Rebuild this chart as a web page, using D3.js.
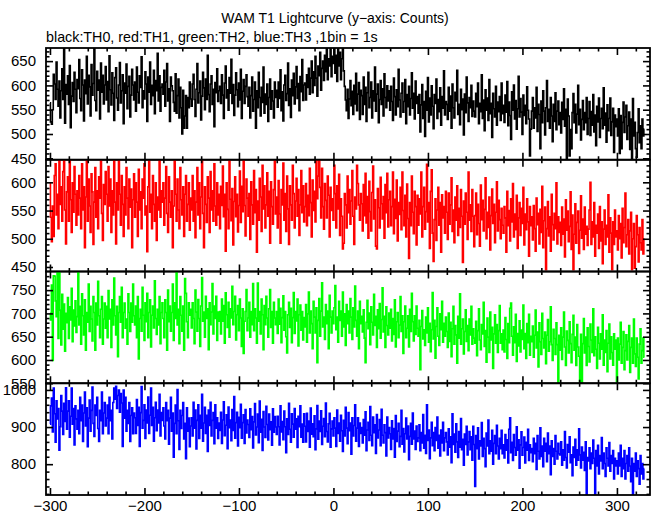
<!DOCTYPE html>
<html><head><meta charset="utf-8">
<script src="https://cdn.jsdelivr.net/npm/d3@7"></script>
<style>body{margin:0;background:#fff}svg{display:block}text{font-family:"Liberation Sans",Arial,Helvetica,sans-serif}</style>
</head><body><svg id="c" width="652" height="515"></svg>
<script>
// Counts per 1 s bin, starting at t = -300 s
const th0 = [
564,525,520,550,623,603,571,648,592,557,609,533,589,634,571,676,522,602,582,620,561,641,513,578,606,567,627,592,544,612,
593,653,573,548,632,601,527,611,583,660,562,621,597,537,643,580,604,676,569,548,629,590,611,531,646,586,621,562,601,639,
570,608,546,661,591,560,626,584,528,616,636,574,549,601,647,564,589,622,521,605,584,644,552,598,619,535,580,633,601,570,
607,547,638,586,564,620,596,659,554,589,572,628,603,526,617,586,648,561,600,579,631,542,610,589,666,568,620,547,596,603,
582,631,557,607,645,568,593,526,617,599,589,565,547,624,543,579,613,533,596,554,500,590,512,537,579,512,575,554,607,572,
557,603,623,571,536,592,645,564,585,609,529,578,627,595,550,613,571,662,581,546,603,620,561,592,515,606,585,634,567,589,
598,563,622,580,532,605,640,574,591,549,616,584,654,563,602,538,580,626,591,556,605,570,633,532,588,612,563,598,622,577,
557,596,533,579,617,547,571,607,512,589,554,627,575,537,596,565,638,543,582,561,603,526,575,613,551,589,568,533,607,575,
590,555,607,573,632,548,587,527,601,621,569,583,646,559,593,534,611,579,625,562,597,639,573,604,548,618,587,653,569,601,
605,570,622,596,635,582,615,650,585,628,600,660,615,578,640,620,668,590,635,650,610,662,628,676,612,655,640,676,618,660,
645,676,625,662,608,676,640,668,612,655,676,630,598,570,548,592,532,572,610,558,588,540,600,562,625,548,582,606,530,590,
579,540,617,561,596,526,585,627,554,575,607,533,589,568,638,547,582,603,523,571,610,561,593,537,624,575,554,599,568,589,
549,598,567,528,615,577,539,591,556,633,570,535,584,605,545,567,612,521,581,556,598,539,573,626,553,584,531,609,563,577,
543,581,504,560,602,532,567,495,588,549,616,525,574,539,599,557,511,581,563,613,532,571,546,595,518,577,553,630,539,567,
561,530,596,547,578,512,603,554,533,586,568,631,540,561,519,592,550,572,498,582,544,617,564,526,575,554,600,536,568,547,
535,584,556,605,521,563,546,622,532,570,507,591,549,574,528,612,542,563,493,584,552,535,598,518,566,546,577,528,605,542,
559,524,580,545,608,517,566,538,489,587,549,601,531,569,510,552,619,535,573,545,499,580,538,559,521,597,549,531,455,510,
547,575,512,554,533,596,505,561,540,470,568,523,589,547,498,554,610,526,551,512,575,537,484,561,526,585,509,547,568,519,
544,502,565,530,593,516,551,448,572,537,455,509,470,544,583,523,561,502,541,600,519,551,488,530,569,509,544,523,575,499,
532,567,497,546,518,581,504,539,476,557,525,574,493,532,553,511,595,518,543,483,560,507,532,574,497,525,553,462,539,515,
531,496,552,460,538,470,524,566,503,535,559,489,517,545,468,531,450,573,496,524,470,452,503,552,482,517,470,531,496,510];

const th1 = [
599,538,495,558,504,612,633,542,579,518,639,561,592,531,619,640,551,491,583,610,531,640,569,511,599,547,628,579,524,585,
542,612,572,518,633,551,592,484,574,639,531,606,558,511,615,583,490,565,626,538,585,518,610,572,646,545,497,596,561,619,
579,531,628,558,606,511,585,542,653,565,491,599,551,640,579,524,612,561,504,592,542,626,572,518,606,556,588,484,569,615,
538,599,565,504,623,551,583,518,606,572,633,542,558,477,592,646,547,579,518,612,561,531,599,497,574,551,639,538,585,565,
599,524,572,628,545,511,610,565,538,585,484,558,639,579,531,606,551,518,626,569,542,592,504,579,612,531,561,599,515,572,
551,612,531,585,502,565,626,542,599,518,574,646,545,484,592,561,529,610,572,511,619,551,585,531,633,558,524,599,542,579,
518,593,559,629,539,579,478,599,552,518,640,570,532,589,489,566,610,539,579,512,559,620,529,593,548,653,559,505,606,572,
540,580,499,601,560,526,621,546,587,476,567,533,607,574,513,630,553,594,519,560,617,540,584,492,601,557,526,587,641,544,
574,519,603,544,492,587,560,634,533,580,513,611,553,490,594,560,533,630,580,519,567,607,540,587,506,560,621,546,594,530,
557,598,523,577,541,625,564,503,604,550,584,530,645,571,611,640,591,537,625,557,517,598,568,537,611,577,503,591,550,571,
533,630,580,519,594,553,614,506,571,540,482,492,580,560,519,611,546,587,526,567,621,540,490,574,553,630,598,560,533,580,
562,514,596,541,616,528,575,501,602,548,514,582,629,535,569,487,482,589,555,519,609,562,535,575,501,596,546,616,521,569,
584,523,557,618,509,570,536,604,496,564,543,591,516,618,550,523,577,503,597,536,465,564,523,611,547,509,584,557,489,577,
524,571,544,618,503,557,591,517,548,632,530,564,483,584,622,510,460,534,571,497,551,591,524,564,476,578,537,557,510,584,
547,499,581,526,560,608,513,551,493,574,533,594,506,554,520,587,540,458,567,526,581,547,499,618,533,560,513,587,540,486,
541,581,507,561,527,487,595,534,568,514,552,608,500,547,520,574,480,541,588,527,561,493,547,601,514,568,534,500,554,524,
510,557,537,476,584,523,550,496,571,530,598,503,544,516,577,483,537,564,506,554,527,591,489,544,516,571,530,469,557,523,
539,498,559,518,478,572,525,545,491,552,511,593,484,532,556,445,518,566,505,539,478,579,525,498,545,518,599,491,539,511,
529,488,556,508,535,468,569,515,549,495,522,583,481,542,445,508,562,492,529,549,474,515,576,501,535,481,556,508,522,488,
517,551,600,490,530,503,564,469,524,510,544,483,557,496,530,456,517,551,490,524,503,578,476,537,510,445,530,490,551,503,
514,480,541,500,527,466,554,493,520,581,486,507,534,473,514,547,445,500,527,448,486,541,507,459,520,493,480,534,473,500];

const th2 = [
700,686,761,599,781,780,727,693,790,646,790,707,632,741,666,720,619,700,680,734,646,714,686,754,639,707,673,727,659,693,
790,675,715,634,742,695,654,729,621,702,681,763,661,715,688,641,736,702,621,722,675,769,695,648,709,736,634,688,722,668,
715,648,749,688,709,627,729,675,776,695,654,715,607,702,736,681,756,648,702,722,668,688,634,742,702,661,722,681,763,695,
675,716,648,736,602,689,709,662,756,696,642,723,682,743,648,702,729,628,696,716,669,770,689,655,709,675,736,635,702,723,
689,648,729,702,621,750,682,716,662,702,763,642,723,689,790,675,709,635,736,696,662,716,621,775,743,682,648,723,696,709,
669,723,689,635,750,703,662,730,689,629,716,777,683,703,649,737,689,710,622,723,676,703,764,656,716,689,737,642,703,683,
704,656,731,683,717,636,744,697,670,724,649,710,690,758,676,704,737,643,697,717,663,731,690,629,710,614,683,704,751,663,
690,724,649,704,676,764,663,710,690,636,765,683,704,656,731,697,622,717,676,737,690,649,710,751,670,704,636,724,690,676,
704,657,731,677,711,637,691,738,664,704,650,615,697,724,670,711,637,691,745,657,704,684,731,630,697,718,664,704,643,691,
671,719,638,699,746,658,705,678,624,726,692,658,712,594,685,732,651,705,766,671,692,644,719,678,705,624,739,692,658,705,
678,712,760,665,692,638,726,685,705,651,746,671,699,631,719,678,705,658,732,692,644,712,671,759,685,651,705,624,726,678,
694,660,708,647,594,681,728,667,701,633,714,681,654,741,674,694,627,708,667,721,647,687,755,660,694,627,714,674,654,701,
668,709,641,689,655,729,628,682,702,648,675,736,661,695,614,682,716,648,668,695,628,709,661,743,682,641,695,655,716,668,
651,685,579,672,706,645,665,631,692,658,712,638,679,618,665,745,645,685,604,672,712,651,631,699,665,726,638,679,651,692,
661,627,701,640,681,607,667,715,634,674,654,593,694,647,742,634,667,688,613,661,708,640,674,620,688,654,715,634,667,647,
636,683,609,663,710,643,622,676,656,724,629,663,595,690,649,616,703,643,670,582,656,697,636,676,616,663,717,636,656,622,
664,617,691,644,603,678,637,711,722,651,610,671,637,698,597,657,630,684,617,664,644,718,624,657,603,678,637,698,610,651,
639,673,606,653,707,626,660,585,680,639,612,700,646,626,660,592,653,687,619,639,714,633,599,666,646,612,680,633,552,653,
621,669,601,649,703,628,588,662,642,615,682,635,594,655,696,621,649,588,676,628,608,552,655,550,635,689,615,649,588,669,
629,596,677,643,616,710,609,650,623,582,670,636,602,656,623,697,589,643,616,663,575,636,677,602,650,616,589,656,623,643,
552,647,600,634,681,593,627,661,579,620,654,600,640,674,573,627,647,593,688,613,586,647,606,559,634,667,593,620,647,606];

const th3 = [
908,957,978,887,1005,936,859,971,922,950,838,901,985,943,880,964,915,1006,894,943,971,873,929,1005,908,950,852,957,922,894,
945,882,980,917,959,861,938,994,903,952,847,924,973,889,945,1008,910,875,959,931,980,896,861,945,917,994,882,938,966,903,
924,959,882,980,917,945,868,966,1005,975,1010,950,985,1000,940,990,965,848,1000,924,980,889,945,910,966,861,931,952,882,938,
925,883,974,904,953,848,939,1009,897,918,960,869,946,911,981,883,932,1005,904,953,862,925,967,890,946,911,988,876,939,918,
952,903,868,966,917,945,854,924,980,889,938,819,910,959,882,1001,917,840,945,896,931,966,868,910,815,952,889,924,847,903,
925,876,967,897,946,841,918,960,869,932,897,988,862,911,953,883,932,834,946,904,967,876,918,939,855,960,897,925,869,911,
891,940,856,919,968,877,905,933,842,954,898,919,863,947,891,982,870,912,940,849,926,898,961,870,912,933,856,947,884,919,
907,872,949,893,928,844,914,963,879,900,935,858,970,886,921,837,942,900,872,956,907,865,935,893,914,851,949,886,928,900,
880,929,901,852,957,887,915,866,943,901,831,922,880,964,894,859,936,908,873,950,894,922,845,929,901,957,873,908,859,936,
902,860,937,888,916,846,951,881,909,874,930,839,895,958,867,916,888,944,853,902,923,874,965,888,860,909,937,846,895,916,
876,925,897,848,946,883,911,862,932,890,834,918,876,953,897,855,939,890,911,827,925,876,904,960,862,897,925,848,911,883,
899,857,920,878,941,836,892,913,864,955,878,850,927,885,906,829,934,871,892,920,850,948,878,857,906,885,822,927,871,899,
882,840,917,868,896,819,931,861,889,910,847,875,945,854,896,833,882,924,868,903,812,875,910,854,938,868,889,840,903,861,
871,906,836,885,857,934,843,878,829,960,864,892,815,871,913,850,885,836,899,864,927,843,878,822,892,857,913,836,871,885,
860,825,895,846,874,804,936,853,881,832,909,860,818,888,846,923,839,867,797,881,853,902,825,860,888,839,874,811,902,853,
740,877,842,898,814,863,849,912,821,870,842,793,884,849,919,828,863,835,891,800,856,877,828,905,849,814,870,842,891,828,
852,817,880,838,866,803,894,925,831,859,810,880,845,824,901,838,866,789,852,887,824,845,873,803,859,838,894,810,852,831,
842,807,870,828,856,786,877,835,814,898,821,849,793,870,835,856,807,884,828,849,772,863,821,842,800,877,835,814,856,828,
825,860,797,839,811,888,818,790,853,832,874,804,825,769,846,818,867,797,839,811,895,825,790,846,811,832,783,860,717,818,
809,844,788,830,802,865,816,717,837,795,851,774,823,809,872,788,830,802,767,844,816,795,858,781,823,802,837,760,816,795,
809,774,830,795,851,767,816,788,837,760,802,823,781,844,795,753,816,717,802,781,830,767,809,788,746,823,774,802,760,788];

const seriesList = [th0, th1, th2, th3];
const seriesColors = ["#000000", "#ff0000", "#00ff00", "#0000ff"];
const tStart = -300;            // first bin time (s)
const binSize = 1;              // 1bin = 1s
const xDomain = [-304.2, 335];
const xMajorTicks = [-300, -200, -100, 0, 100, 200, 300];
const yDomains = [[447, 677], [442, 640], [550, 790], [717, 1018]];
const yMajorTicks = [[450, 500, 550, 600, 650], [450, 500, 550, 600], [550, 600, 650, 700, 750], [800, 900, 1000]];
const yMinorStep = [10, 10, 10, 20];
const titleText = "WAM T1 Lightcurve (y\u2212axis: Counts)";
const subtitleText = "black:TH0, red:TH1, green:TH2, blue:TH3 ,1bin = 1s";

const svg = d3.select("#c");
const L = 46, R = 650, T = 48, B = 495;
const ph = (B - T) / 4;
const x = d3.scaleLinear().domain(xDomain).range([L, R]);
const xMinor = d3.range(-300, 336, 20).filter(v => v % 100 !== 0);

svg.append("rect").attr("width", 652).attr("height", 515).attr("fill", "#fff");

svg.append("text").attr("x", 335).attr("y", 23).attr("text-anchor", "middle")
  .attr("font-size", 14).text(titleText);
svg.append("text").attr("x", 46).attr("y", 42).attr("font-size", 14.3).text(subtitleText);

const defs = svg.append("defs");

seriesList.forEach((vals, i) => {
  const top = T + i * ph, bot = top + ph;
  const y = d3.scaleLinear().domain(yDomains[i]).range([bot, top]);
  const cid = "clip" + i;
  defs.append("clipPath").attr("id", cid).append("rect")
    .attr("x", L).attr("y", top).attr("width", R - L).attr("height", ph);

  const line = d3.line()
    .x((d, j) => x(tStart + j * binSize))
    .y(d => y(d))
    .curve(d3.curveStep);
  svg.append("path").datum(vals).attr("clip-path", `url(#${cid})`)
    .attr("fill", "none").attr("stroke", seriesColors[i]).attr("stroke-width", 1.6)
    .attr("d", line);

  const g = svg.append("g").attr("class", "axes");
  const minorY = d3.range(Math.ceil(yDomains[i][0] / yMinorStep[i]) * yMinorStep[i], yDomains[i][1], yMinorStep[i])
    .filter(v => yMajorTicks[i].indexOf(v) < 0 && (i < 3 ? v % 50 !== 0 : v % 100 !== 0));

  g.append("g").attr("transform", `translate(${L},0)`)
    .call(d3.axisLeft(y).tickValues(yMajorTicks[i]).tickSize(-7).tickPadding(10).tickFormat(d3.format("d")));
  g.append("g").attr("transform", `translate(${L},0)`)
    .call(d3.axisLeft(y).tickValues(minorY).tickSize(-3.5).tickFormat(""));
  g.append("g").attr("transform", `translate(${R},0)`)
    .call(d3.axisRight(y).tickValues(yMajorTicks[i]).tickSize(-7).tickFormat(""));
  g.append("g").attr("transform", `translate(${R},0)`)
    .call(d3.axisRight(y).tickValues(minorY).tickSize(-3.5).tickFormat(""));
  g.append("g").attr("transform", `translate(0,${top})`)
    .call(d3.axisTop(x).tickValues(xMajorTicks).tickSize(-7).tickFormat(""));
  g.append("g").attr("transform", `translate(0,${top})`)
    .call(d3.axisTop(x).tickValues(xMinor).tickSize(-3.5).tickFormat(""));
  g.append("g").attr("transform", `translate(0,${bot})`)
    .call(d3.axisBottom(x).tickValues(xMajorTicks).tickSize(-7).tickPadding(5)
      .tickFormat(i === 3 ? d3.format("d") : ""));
  g.append("g").attr("transform", `translate(0,${bot})`)
    .call(d3.axisBottom(x).tickValues(xMinor).tickSize(-3.5).tickFormat(""));

  g.selectAll(".domain").remove();
  g.selectAll(".tick line").attr("stroke", "#000").attr("stroke-width", 1.6);
  g.selectAll(".tick text").attr("fill", "#000").attr("font-size", 15)
    .attr("font-family", "'Liberation Sans', Arial, sans-serif");

  svg.append("rect").attr("x", L).attr("y", top).attr("width", R - L).attr("height", ph)
    .attr("fill", "none").attr("stroke", "#000").attr("stroke-width", 1.8);
});
</script></body></html>
